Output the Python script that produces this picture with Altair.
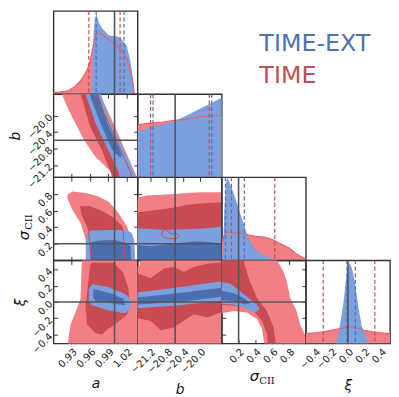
import altair as alt
import pandas as pd

W, H = 85, 84

# ---------------- axes / parameters ----------------
DOM = {"a": [0.9004, 1.0377], "b": [-21.5, -19.48], "s": [0.0, 1.0], "x": [-0.51, 0.51]}
TICKS = {"a": [0.93, 0.96, 0.99, 1.02], "b": [-21.2, -20.8, -20.4, -20.0],
         "s": [0.2, 0.4, 0.6, 0.8], "x": [-0.4, -0.2, 0.0, 0.2, 0.4]}
FMT = {"a": ".2f", "b": ".1f", "s": ".1f", "x": ".1f"}
TITLES = {"a": "a", "b": "b", "s": None, "x": "ξ"}
SIGMA_TITLE = ["σ", "CII"]
TITLE_STYLE = {"a": "italic", "b": "italic", "s": "normal", "x": "italic"}
TRUTH = {"a": 1.0, "b": -20.6, "s": 0.2, "x": 0.0}
LEGEND = ["TIME-EXT", "TIME"]

LB, DB = "#7BA0E0", "#4A6FB0"
LR, DR = "#F27F85", "#C84A52"
BLUE, RED, HRED = "#4C72B0", "#C44E52", "#E4646B"

# ---------------- 1D marginals ----------------
RED_A_X = [0.900, 0.910, 0.920, 0.926, 0.935, 0.942, 0.948, 0.953, 0.959, 0.963, 0.967, 0.970, 0.975, 0.980, 0.990, 1.000, 1.012, 1.020, 1.025, 1.030, 1.032]
RED_A_Y = [0.02, 0.025, 0.035, 0.05, 0.09, 0.14, 0.20, 0.26, 0.36, 0.50, 0.65, 0.72, 0.73, 0.72, 0.66, 0.60, 0.52, 0.42, 0.30, 0.14, 0.0]
BLUE_A_X = [0.962, 0.964, 0.966, 0.968, 0.970, 0.972, 0.975, 0.980, 0.985, 0.990, 0.995, 1.000, 1.005, 1.010, 1.015, 1.020, 1.025, 1.028, 1.031, 1.033]
BLUE_A_Y = [0.0, 0.40, 0.75, 0.90, 0.96, 0.92, 0.85, 0.79, 0.75, 0.71, 0.70, 0.70, 0.69, 0.67, 0.63, 0.58, 0.42, 0.30, 0.12, 0.0]

RED_B_X = [-21.5, -21.3, -21.1, -20.9, -20.7, -20.5, -20.3, -20.1, -19.9, -19.7, -19.48]
RED_B_Y = [0.63, 0.645, 0.655, 0.665, 0.68, 0.69, 0.70, 0.72, 0.73, 0.74, 0.745]
BLUE_B_X = [-21.5, -21.3, -21.1, -20.9, -20.7, -20.5, -20.3, -20.1, -19.9, -19.7, -19.48]
BLUE_B_Y = [0.55, 0.58, 0.61, 0.63, 0.66, 0.70, 0.75, 0.80, 0.85, 0.90, 0.96]

RED_S_X = [0.0, 0.02, 0.04, 0.06, 0.10, 0.15, 0.20, 0.25, 0.30, 0.35, 0.40, 0.50, 0.60, 0.70, 0.80, 0.90, 0.95, 1.0]
RED_S_Y = [0.20, 0.28, 0.32, 0.34, 0.34, 0.33, 0.33, 0.32, 0.31, 0.30, 0.29, 0.28, 0.25, 0.20, 0.15, 0.07, 0.04, 0.02]
BLUE_S_X = [0.0, 0.015, 0.03, 0.05, 0.065, 0.08, 0.10, 0.14, 0.18, 0.22, 0.26, 0.30, 0.34, 0.38, 0.44, 0.50, 0.56, 0.62, 0.66]
BLUE_S_Y = [0.0, 0.10, 0.60, 0.93, 0.99, 0.97, 0.92, 0.81, 0.69, 0.56, 0.44, 0.31, 0.22, 0.15, 0.10, 0.06, 0.035, 0.015, 0.0]

RED_X_X = [-0.51, -0.4, -0.3, -0.2, -0.1, 0.0, 0.1, 0.2, 0.3, 0.4, 0.51]
RED_X_Y = [0.12, 0.13, 0.14, 0.16, 0.18, 0.20, 0.19, 0.16, 0.14, 0.13, 0.12]
BLUE_X_X = [-0.16, -0.13, -0.09, -0.05, -0.03, -0.01, 0.02, 0.05, 0.085, 0.125, 0.165, 0.21, 0.25]
BLUE_X_Y = [0.0, 0.05, 0.26, 0.53, 0.72, 0.88, 0.97, 0.90, 0.73, 0.45, 0.22, 0.10, 0.0]

HIST = {"a": (RED_A_X, RED_A_Y, BLUE_A_X, BLUE_A_Y), "b": (RED_B_X, RED_B_Y, BLUE_B_X, BLUE_B_Y),
        "s": (RED_S_X, RED_S_Y, BLUE_S_X, BLUE_S_Y), "x": (RED_X_X, RED_X_Y, BLUE_X_X, BLUE_X_Y)}

Q_RED = {"a": [0.958, 1.009], "b": [-21.19, -19.78], "s": [0.115, 0.63], "x": [-0.30, 0.326]}
Q_BLUE = {"a": [0.970, 1.0155], "b": [-21.13, -19.72], "s": [0.044, 0.268], "x": [-0.012, 0.09]}

# ---------------- 2D contours (x = column parameter, y = row parameter) ----------------
RED_BA_OUT = [(0.912, -19.4), (0.923, -19.8), (0.936, -20.19), (0.950, -20.59), (0.968, -20.99), (0.995, -21.38), (1.004, -21.6), (1.04, -21.6), (1.033, -21.38), (1.017, -20.83), (0.998, -20.19), (0.974, -19.4)]
RED_BA_IN = [(0.944, -19.4), (0.961, -20.27), (0.982, -20.9), (1.0, -21.6), (1.03, -21.6), (1.025, -21.34), (0.997, -20.40), (0.966, -19.4)]
BLUE_BA_OUT = [(0.951, -19.4), (0.969, -20.19), (0.988, -20.79), (1.007, -21.38), (1.009, -21.6), (1.036, -21.6), (1.032, -21.38), (1.015, -20.83), (0.993, -20.19), (0.976, -19.4)]
BLUE_BA_IN = [(0.957, -19.4), (0.977, -20.19), (0.996, -20.83), (1.009, -21.02), (1.012, -20.99), (1.0065, -20.75), (0.988, -20.19), (0.972, -19.4)]

RED_SA_OUT = [(0.923, 0.79), (0.931, 0.83), (0.953, 0.81), (0.974, 0.77), (0.990, 0.71), (1.0065, 0.57), (1.020, 0.41), (1.028, 0.25), (1.033, 0.056), (1.034, -0.05), (0.955, -0.05), (0.953, 0.25), (0.9445, 0.45), (0.931, 0.61), (0.923, 0.75)]
RED_SA_IN = [(0.9445, 0.65), (0.958, 0.65), (0.9795, 0.59), (0.998, 0.51), (1.012, 0.41), (1.0145, 0.31), (1.017, -0.05), (0.963, -0.05), (0.958, 0.31), (0.958, 0.37), (0.947, 0.55)]
BLUE_SA_OUT = [(0.955, 0.33), (0.961, 0.36), (1.0, 0.37), (1.02, 0.36), (1.028, 0.33), (1.032, 0.25), (1.034, -0.05), (0.953, -0.05), (0.953, 0.25)]
BLUE_SA_IN = [(0.961, 0.22), (0.975, 0.24), (1.0, 0.245), (1.02, 0.21), (1.026, 0.17), (1.027, -0.05), (0.961, -0.05)]

RED_XA_OUT = [(0.947, 0.6), (0.946, 0.36), (0.9445, 0.04), (0.9365, -0.12), (0.928, -0.28), (0.925, -0.44), (0.923, -0.6), (1.05, -0.6), (1.05, 0.6)]
RED_XA_IN = [(0.9634, 0.48), (0.998, 0.48), (1.0145, 0.36), (1.0226, 0.16), (1.025, -0.04), (1.02, -0.16), (1.0065, -0.24), (0.9956, -0.30), (0.9876, -0.34), (0.9795, -0.40), (0.9687, -0.38), (0.9553, -0.28), (0.9526, -0.08), (0.9553, 0.12), (0.958, 0.32), (0.9606, 0.46)]
BLUE_XA_OUT = [(0.9634, 0.22), (0.9903, 0.18), (1.017, 0.10), (1.026, 0.04), (1.026, -0.08), (1.017, -0.14), (0.9903, -0.10), (0.9634, -0.04), (0.958, 0.0), (0.958, 0.16)]
BLUE_XA_IN = [(0.966, 0.16), (0.9956, 0.10), (1.0145, 0.04), (1.017, -0.04), (0.998, -0.02), (0.969, 0.01), (0.965, 0.06)]

RED_SB_OUT = [(-21.6, 0.74), (-21.3, 0.78), (-20.9, 0.79), (-20.6, 0.80), (-20.3, 0.81), (-20.0, 0.82), (-19.4, 0.82), (-19.4, -0.05), (-21.6, -0.05)]
RED_SB_IN = [(-21.6, 0.57), (-21.3, 0.59), (-21.0, 0.61), (-20.7, 0.63), (-20.3, 0.67), (-19.9, 0.69), (-19.4, 0.70), (-19.4, 0.38), (-21.6, 0.36)]
BLUE_SB_OUT = [(-21.6, 0.39), (-20.8, 0.365), (-20.0, 0.38), (-19.4, 0.41), (-19.4, -0.05), (-21.6, -0.05)]
BLUE_SB_IN = [(-21.6, 0.19), (-21.2, 0.17), (-20.8, 0.19), (-20.5, 0.21), (-20.1, 0.23), (-19.8, 0.22), (-19.4, 0.2), (-19.4, -0.05), (-21.6, -0.05)]
RED_SB_LOOP = [(-20.92, 0.345), (-20.84, 0.37), (-20.76, 0.34), (-20.70, 0.32), (-20.58, 0.33), (-20.51, 0.29), (-20.56, 0.265), (-20.70, 0.26), (-20.84, 0.27), (-20.92, 0.30)]

RED_XB_OUT = [(-21.6, 0.42), (-21.45, 0.45), (-21.42, 0.6), (-19.4, 0.6), (-19.4, -0.6), (-21.6, -0.6)]
RED_XB_IN = [(-21.6, 0.37), (-21.19, 0.29), (-20.87, 0.41), (-20.63, 0.43), (-20.39, 0.37), (-20.15, 0.43), (-19.83, 0.47), (-19.4, 0.49), (-19.4, -0.11), (-19.83, -0.19), (-20.15, -0.15), (-20.39, -0.23), (-20.63, -0.31), (-20.94, -0.35), (-21.19, -0.23), (-21.6, -0.19)]
BLUE_XB_OUT = [(-21.6, 0.11), (-20.5, 0.18), (-19.4, 0.26), (-19.4, 0.02), (-20.5, -0.04), (-21.6, -0.08)]
BLUE_XB_IN = [(-21.6, 0.05), (-20.5, 0.11), (-19.4, 0.18), (-19.4, 0.07), (-20.5, 0.0), (-21.6, -0.035)]

RED_XS_OUT = [(-0.05, 0.6), (0.66, 0.6), (0.66, 0.51), (0.734, 0.37), (0.773, 0.25), (0.813, 0.05), (0.89, -0.11), (0.93, -0.27), (1.0, -0.43), (1.05, -0.6), (0.505, -0.6), (0.505, -0.505), (0.477, -0.33), (0.418, -0.21), (0.3, -0.13), (0.142, -0.11), (-0.05, -0.15)]
RED_XS_IN = [(-0.05, 0.6), (0.26, 0.6), (0.26, 0.51), (0.32, 0.29), (0.418, 0.05), (0.536, -0.11), (0.615, -0.31), (0.654, -0.6), (0.556, -0.6), (0.536, -0.39), (0.477, -0.23), (0.378, -0.11), (0.22, -0.05), (-0.05, -0.03)]
BLUE_XS_OUT = [(-0.05, 0.25), (0.103, 0.227), (0.22, 0.128), (0.34, 0.029), (0.418, -0.031), (0.45, -0.09), (0.4, -0.13), (0.26, -0.072), (0.142, -0.031), (-0.05, -0.024)]
BLUE_XS_IN = [(-0.05, 0.15), (0.142, 0.107), (0.26, 0.048), (0.34, -0.012), (0.28, -0.031), (0.142, 0.008), (-0.05, 0.03)]

CONTOURS = {
    ("b", "a"): (RED_BA_OUT, RED_BA_IN, BLUE_BA_OUT, BLUE_BA_IN, True),
    ("s", "a"): (RED_SA_OUT, RED_SA_IN, BLUE_SA_OUT, BLUE_SA_IN, True),
    ("x", "a"): (RED_XA_OUT, RED_XA_IN, BLUE_XA_OUT, BLUE_XA_IN, False),
    ("s", "b"): (RED_SB_OUT, RED_SB_IN, BLUE_SB_OUT, BLUE_SB_IN, False),
    ("x", "b"): (RED_XB_OUT, RED_XB_IN, BLUE_XB_OUT, BLUE_XB_IN, False),
    ("x", "s"): (RED_XS_OUT, RED_XS_IN, BLUE_XS_OUT, BLUE_XS_IN, False),
}

PANEL_VIEW = alt.ViewBackground(stroke="#333333", strokeWidth=1.4)
NO_VIEW = alt.ViewBackground(stroke="transparent", strokeWidth=0)


def scale(dom):
    return alt.Scale(domain=dom, nice=False, zero=False)


def xy(xs, ys):
    return {"x": alt.X("x:Q", scale=xs, axis=None), "y": alt.Y("y:Q", scale=ys, axis=None)}


def poly_fill(pts, color, xs, ys):
    df = pd.DataFrame({"x": [p[0] for p in pts], "y": [p[1] for p in pts], "i": list(range(len(pts)))})
    return alt.Chart(df).mark_line(filled=True, fill=color, strokeWidth=0, clip=True).encode(
        order=alt.Order("i:Q"), **xy(xs, ys))


def poly_line(pts, color, xs, ys, width=1.0):
    pts = list(pts) + [pts[0]]
    df = pd.DataFrame({"x": [p[0] for p in pts], "y": [p[1] for p in pts], "i": list(range(len(pts)))})
    return alt.Chart(df).mark_line(color=color, strokeWidth=width, clip=True).encode(
        order=alt.Order("i:Q"), **xy(xs, ys))


def vlines(vals, color, xs, width, dash=None):
    kw = dict(color=color, strokeWidth=width, clip=True)
    if dash:
        kw["strokeDash"] = dash
    return alt.Chart(pd.DataFrame({"x": vals})).mark_rule(**kw).encode(
        x=alt.X("x:Q", scale=xs, axis=None))


def hlines(vals, color, ys, width):
    return alt.Chart(pd.DataFrame({"y": vals})).mark_rule(color=color, strokeWidth=width, clip=True).encode(
        y=alt.Y("y:Q", scale=ys, axis=None))


def tick_axis(orient, offset, values):
    return alt.Axis(orient=orient, offset=offset, values=values, labels=False, domain=False,
                    grid=False, ticks=True, tickSize=4, tickColor="#222222", tickWidth=0.9, title=None)


def tick_layer(xd, yd, xs, ys, xo, yo, xt, yt):
    df = pd.DataFrame({"x": [xd[0]], "y": [yd[0]]})
    enc = {"x": alt.X("x:Q", scale=xs, axis=tick_axis(xo, -H, xt))}
    if yt:
        enc["y"] = alt.Y("y:Q", scale=ys, axis=tick_axis(yo, -W, yt))
    else:
        enc["y"] = alt.Y("y:Q", scale=ys, axis=None)
    return alt.Chart(df).mark_point(opacity=0).encode(**enc)


def axis_props(p, orient, baseline, pad):
    kw = dict(orient=orient, values=TICKS[p], format=FMT[p], ticks=False, domain=False,
              grid=False, labelAngle=-45, labelAlign="right", labelBaseline=baseline, labelPadding=3,
              labelFontSize=10, labelFont="DejaVu Sans", labelColor="#222222", labelOverlap=False,
              labelFlush=False)
    if TITLES[p]:
        kw.update(title=TITLES[p], titleFontSize=14, titleFont="DejaVu Sans",
                  titleFontStyle=TITLE_STYLE[p], titleFontWeight="normal", titleColor="#111111",
                  titlePadding=pad)
    else:
        kw.update(title=None)
    return alt.Axis(**kw)


def label_layer(xd, yd, xs, ys, colv, rowv, bottom, left):
    df = pd.DataFrame({"x": [xd[0]], "y": [yd[0]]})
    xa = axis_props(colv, "bottom", "top", 8) if bottom else None
    ya = axis_props(rowv, "left", "middle", 3) if left else None
    return alt.Chart(df).mark_point(opacity=0).encode(
        x=alt.X("x:Q", scale=xs, axis=xa), y=alt.Y("y:Q", scale=ys, axis=ya))


def sigma_title(vertical):
    """Axis title sigma_CII drawn as main symbol plus smaller subscript text."""
    d1 = pd.DataFrame({"t": [SIGMA_TITLE[0]]})
    d2 = pd.DataFrame({"t": [SIGMA_TITLE[1]]})
    if vertical:
        m1 = alt.Chart(d1).mark_text(angle=270, align="center", baseline="alphabetic", fontSize=15,
                                     font="DejaVu Sans", fontStyle="italic", color="#111111").encode(
            text="t:N", x=alt.value(-25), y=alt.value(59))
        m2 = alt.Chart(d2).mark_text(angle=270, align="left", baseline="alphabetic", fontSize=10,
                                     font="DejaVu Serif", color="#111111").encode(
            text="t:N", x=alt.value(-22), y=alt.value(53))
    else:
        m1 = alt.Chart(d1).mark_text(align="center", baseline="alphabetic", fontSize=15,
                                     font="DejaVu Sans", fontStyle="italic", color="#111111").encode(
            text="t:N", x=alt.value(33), y=alt.value(122))
        m2 = alt.Chart(d2).mark_text(align="left", baseline="alphabetic", fontSize=10,
                                     font="DejaVu Serif", color="#111111").encode(
            text="t:N", x=alt.value(38), y=alt.value(125))
    return [m1, m2]


def hist_panel(p, bottom=False):
    xd, yd = DOM[p], [0.0, 1.0]
    xs, ys = scale(xd), scale(yd)
    rx, ry, bx, by = HIST[p]
    red_df = pd.DataFrame({"x": rx, "y": ry})
    blue_df = pd.DataFrame({"x": bx, "y": by})
    layers = [
        alt.Chart(red_df).mark_area(color=LR, opacity=1, clip=True).encode(**xy(xs, ys)),
        alt.Chart(blue_df).mark_area(color=LB, opacity=1, clip=True).encode(**xy(xs, ys)),
        alt.Chart(red_df).mark_line(color=HRED, strokeWidth=1.2, clip=True).encode(**xy(xs, ys)),
        vlines(Q_RED[p], RED, xs, 1.2, [4, 2.5]),
        vlines(Q_BLUE[p], BLUE, xs, 1.2, [4, 2.5]),
        vlines([TRUTH[p]], "#555555", xs, 1.6),
        tick_layer(xd, yd, xs, ys, "top", None, TICKS[p], None),
    ]
    if bottom:
        layers.append(label_layer(xd, yd, xs, ys, p, p, True, False))
    return alt.layer(*layers).resolve_axis(x="independent", y="independent").properties(
        width=W, height=H, view=PANEL_VIEW)


def pair_panel(rowv, colv, left=False, bottom=False):
    xd, yd = DOM[colv], DOM[rowv]
    xs, ys = scale(xd), scale(yd)
    ro, ri, bo, bi, outline = CONTOURS[(rowv, colv)]
    layers = [poly_fill(ro, LR, xs, ys), poly_fill(ri, DR, xs, ys),
              poly_fill(bo, LB, xs, ys), poly_fill(bi, DB, xs, ys)]
    if outline:
        layers.append(poly_line(ri, DR, xs, ys, 1.0))
    if (rowv, colv) == ("s", "b"):
        layers.append(poly_line(RED_SB_LOOP, DR, xs, ys, 1.0))
    layers += [
        vlines([TRUTH[colv]], "#555555", xs, 1.6),
        hlines([TRUTH[rowv]], "#555555", ys, 1.6),
        tick_layer(xd, yd, xs, ys, "top", "right", TICKS[colv], TICKS[rowv]),
        tick_layer(xd, yd, xs, ys, "bottom", "left", TICKS[colv], TICKS[rowv]),
    ]
    if left or bottom:
        layers.append(label_layer(xd, yd, xs, ys, colv, rowv, bottom, left))
    if left and rowv == "s":
        layers += sigma_title(True)
    if bottom and colv == "s":
        layers += sigma_title(False)
    return alt.layer(*layers).resolve_axis(x="independent", y="independent").properties(
        width=W, height=H, view=PANEL_VIEW)


def empty_cell():
    return alt.Chart(pd.DataFrame({"x": [0]})).mark_point(opacity=0).encode(
        x=alt.X("x:Q", axis=None), y=alt.Y("x:Q", axis=None)).properties(width=W, height=H, view=NO_VIEW)


def legend_cell():
    t1 = alt.Chart(pd.DataFrame({"t": [LEGEND[0]]})).mark_text(
        align="left", baseline="alphabetic", fontSize=24, font="DejaVu Sans", color=BLUE
    ).encode(text="t:N", x=alt.value(38), y=alt.value(40))
    t2 = alt.Chart(pd.DataFrame({"t": [LEGEND[1]]})).mark_text(
        align="left", baseline="alphabetic", fontSize=24, font="DejaVu Sans", color=RED
    ).encode(text="t:N", x=alt.value(38), y=alt.value(73))
    return alt.layer(t1, t2).properties(width=W, height=H, view=NO_VIEW)


cells = [
    hist_panel("a"), empty_cell(), legend_cell(), empty_cell(),
    pair_panel("b", "a", left=True), hist_panel("b"), empty_cell(), empty_cell(),
    pair_panel("s", "a", left=True), pair_panel("s", "b"), hist_panel("s"), empty_cell(),
    pair_panel("x", "a", left=True, bottom=True), pair_panel("x", "b", bottom=True),
    pair_panel("x", "s", bottom=True), hist_panel("x", bottom=True),
]

chart = alt.concat(*cells, columns=4, spacing=0, bounds="flush").properties(
    padding={"left": 0, "top": 0, "right": 0, "bottom": 0}
).configure_view(strokeWidth=0).configure(background="white")

chart.save("out.html", embed_options={"renderer": "svg", "actions": False})
